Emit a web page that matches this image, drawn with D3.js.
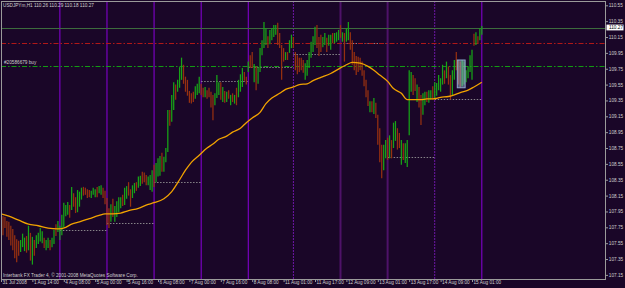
<!DOCTYPE html>
<html><head><meta charset="utf-8">
<script src="https://cdnjs.cloudflare.com/ajax/libs/d3/7.8.5/d3.min.js"></script>
<style>html,body{margin:0;padding:0;background:#1a0628;}svg{display:block}</style>
</head><body><svg id="c" width="625" height="288"></svg>
<script>
// ---- DATA ----
const symbolTitle = "USDJPYm,H1  110.26 110.29 110.18 110.27";
const copyright = "Interbank FX Trader 4, \u00a9 2001-2008 MetaQuotes Software Corp.";
const orderLabel = "#20586679 buy";

const highs = [
107.88,107.89,107.88,107.83,107.82,107.77,107.73,107.65,107.60,107.58,
107.59,107.67,107.62,107.64,107.77,107.68,107.63,107.59,107.65,107.68,
107.74,107.70,107.62,107.59,107.62,107.59,107.62,107.72,107.79,107.83,
107.77,107.91,108.06,108.03,108.07,108.03,108.26,108.18,108.13,108.22,
108.20,108.25,108.26,108.25,108.23,108.22,108.21,108.25,108.23,108.26,
108.27,108.28,108.25,108.21,108.12,107.99,108.04,108.11,108.02,108.08,
108.13,108.13,108.16,108.25,108.27,108.32,108.23,108.28,108.31,108.32,
108.39,108.40,108.45,108.44,108.41,108.39,108.41,108.47,108.54,108.56,
108.62,108.65,108.69,108.64,108.75,109.23,109.23,109.42,109.58,109.55,
109.61,109.77,109.89,109.80,109.65,109.61,109.47,109.44,109.46,109.53,
109.56,109.65,109.56,109.51,109.52,109.48,109.51,109.46,109.42,109.44,
109.67,109.58,109.58,109.52,109.47,109.46,109.48,109.42,109.44,109.42,
109.51,109.61,109.68,109.76,109.71,109.65,109.84,109.92,109.96,109.81,
109.78,109.77,110.01,110.11,110.34,110.26,110.16,110.24,110.26,110.30,
110.30,110.33,110.20,110.05,110.01,109.96,109.96,110.11,110.18,110.15,
109.96,109.92,109.89,109.89,109.86,109.82,109.86,109.96,110.09,110.16,
110.28,110.30,110.15,110.18,110.15,110.20,110.14,110.18,110.18,110.20,
110.20,110.21,110.24,110.30,110.21,110.20,110.26,110.34,110.21,110.11,
109.96,109.91,109.90,109.89,109.84,109.73,109.61,109.48,109.34,109.34,
109.38,109.32,109.17,109.00,108.79,108.79,108.85,108.88,108.91,108.85,
109.07,109.09,109.00,108.94,108.85,108.81,108.81,108.85,109.73,109.71,
109.67,109.63,109.55,109.52,109.42,109.44,109.46,109.46,109.48,109.48,
109.53,109.58,109.57,109.67,109.63,109.80,109.73,109.84,109.78,109.67,
109.73,109.86,109.96,109.86,109.84,109.86,109.84,109.73,109.78,109.92,
109.99,110.19,110.21,110.16,110.26,110.29];

const lows = [
107.69,107.65,107.74,107.63,107.59,107.52,107.46,107.36,107.31,107.39,
107.44,107.50,107.45,107.43,107.46,107.33,107.28,107.39,107.49,107.54,
107.57,107.55,107.49,107.46,107.49,107.46,107.50,107.54,107.64,107.69,
107.59,107.65,107.75,107.89,107.91,107.87,107.97,108.01,107.93,107.94,
108.01,108.10,108.15,108.16,108.12,108.13,108.12,108.16,108.13,108.13,
108.18,108.16,108.12,108.04,107.78,107.74,107.82,107.88,107.82,107.88,
107.94,107.99,108.02,108.03,108.11,108.15,108.01,108.12,108.18,108.21,
108.25,108.27,108.30,108.32,108.28,108.28,108.22,108.20,108.26,108.32,
108.39,108.40,108.45,108.45,108.57,108.70,109.03,109.08,109.23,109.36,
109.46,109.51,109.61,109.56,109.46,109.41,109.32,109.31,109.33,109.37,
109.42,109.44,109.42,109.39,109.39,109.37,109.39,109.26,109.10,109.29,
109.38,109.42,109.36,109.33,109.32,109.33,109.37,109.29,109.33,109.31,
109.29,109.39,109.46,109.52,109.60,109.55,109.71,109.76,109.76,109.58,
109.48,109.56,109.71,109.92,110.01,110.05,110.01,110.06,110.11,110.15,
110.18,110.05,110.01,109.61,109.84,109.86,109.86,109.95,110.01,110.01,
109.73,109.68,109.71,109.73,109.70,109.61,109.66,109.76,109.89,109.96,
110.05,110.01,109.91,109.96,110.02,110.05,109.96,110.04,109.99,110.07,
110.07,110.09,110.11,110.14,110.09,109.84,110.09,110.11,109.99,109.80,
109.73,109.67,109.71,109.73,109.66,109.53,109.39,109.28,109.20,109.20,
109.18,109.13,108.79,108.57,108.37,108.47,108.62,108.60,108.62,108.62,
108.75,108.84,108.73,108.75,108.54,108.60,108.56,108.51,108.91,109.46,
109.42,109.47,109.33,109.26,109.04,109.17,109.29,109.33,109.32,109.36,
109.36,109.38,109.41,109.48,109.46,109.55,109.56,109.63,109.55,109.36,
109.42,109.61,109.73,109.55,109.51,109.53,109.55,109.58,109.63,109.71,
109.61,110.04,110.05,110.07,110.11,110.18];

// u = up bar, d = down bar
const dirs = ("dddddddddd"+"uuudududuu"+"uuduuduudu"+"uuuuududdu"+"uudddduuud"+
  "uudddduduu"+"uuduudduud"+"uuddduuudu"+"uuduuuduud"+"uuuddddddu"+
  "uudduddddu"+"uududududu"+"duuudduddu"+"duuuuuduuu"+"udddduduud"+
  "ddddduuuuu"+"uddduuduud"+"uuududuudd"+"ddddddddud"+"udddduudud"+
  "uudduduuuu"+"ddudduuduu"+"duuuuududd"+"uuddduuuuu"+"ududuu").split("");

const maIdx = [0,4,9,14,19,24,29,33,36,40,45,50,53,57,61,65,70,75,78,83,87,91,94,97,101,105,108,111,115,118,122,125,128,132,135,138,142,145,149,152,156,159,163,168,173,176,179,183,187,190,193,197,200,204,207,210,214,217,220,224,228,231,234,238,241,245];
const maVal = [107.92,107.89,107.84,107.79,107.77,107.74,107.73,107.75,107.79,107.82,107.86,107.90,107.92,107.92,107.93,107.96,107.99,108.04,108.06,108.11,108.20,108.35,108.47,108.57,108.66,108.75,108.80,108.86,108.90,108.95,109.00,109.07,109.13,109.20,109.31,109.38,109.44,109.49,109.52,109.55,109.56,109.60,109.64,109.69,109.76,109.80,109.83,109.82,109.78,109.73,109.67,109.59,109.50,109.44,109.36,109.36,109.36,109.37,109.37,109.39,109.40,109.42,109.45,109.48,109.52,109.58];

const priceTicks = [110.55,110.35,110.15,109.95,109.75,109.55,109.35,109.15,108.95,108.75,108.55,108.35,108.15,107.95,107.75,107.55,107.35,107.15];
const timeIdx = [0,16,32,48,64,80,96,112,128,144,160,176,192,208,224,240];
const timeLabels = ["31 Jul 2008","1 Aug 14:00","4 Aug 08:00","5 Aug 00:00","5 Aug 16:00","6 Aug 08:00","7 Aug 00:00","7 Aug 16:00","8 Aug 08:00","11 Aug 01:00","11 Aug 17:00","12 Aug 09:00","13 Aug 01:00","13 Aug 17:00","14 Aug 09:00","15 Aug 01:00"];

const sepIdx = [30,54,78,102,126,149,173,197,221,245];
const sepKind = ["b","b","b","b","b","dash","wide","wide","dash","b"];

const levelStart = [30,54,78,102,126,149,173,197,221];
const levelEnd   = [54,78,102,126,149,173,197,221,245];
const levelPrice = [107.72,107.81,108.32,109.60,109.77,109.94,110.07,108.64,109.37];

const bidPrice = 110.27;
const stopPrice = 110.07;
const openPrice = 109.79;
const box = {i0:232.5, i1:236.5, hi:109.86, lo:109.51};

// ---- DRAW ----
const W=625,H=288;
const P={l:1,r:606,t:1,b:280};
const C={bg:"#1a0628",frame:"#9a9a9a",txt:"#cfcfcf",up:"#17a417",dn:"#963010",ma:"#f2a300"};
const FONT='"Liberation Sans", Arial, sans-serif';
const svg=d3.select("#c");
svg.append("rect").attr("width",W).attr("height",H).attr("fill",C.bg);

const x=d3.scaleLinear().domain([0,245]).range([1,1+245*1.9625]);
const y=d3.scaleLinear().domain([107.15,110.55]).range([274.9,5.3]);

svg.append("defs").append("clipPath").attr("id","cp").append("rect")
  .attr("x",P.l).attr("y",P.t).attr("width",P.r-P.l).attr("height",P.b-P.t);
const g=svg.append("g").attr("clip-path","url(#cp)");

// separators
g.selectAll("line.sep").data(sepIdx).join("line")
  .attr("x1",d=>x(d)).attr("x2",d=>x(d)).attr("y1",P.t).attr("y2",P.b)
  .attr("stroke",(d,i)=>sepKind[i]==="b"?"#8a00dc":sepKind[i]==="wide"?"#4e1268":"#6e18a8")
  .attr("stroke-width",(d,i)=>sepKind[i]==="wide"?2:1)
  .attr("stroke-dasharray",(d,i)=>sepKind[i]==="dash"?"2,1":null);

// daily level segments
g.selectAll("line.lvl").data(levelPrice).join("line")
  .attr("x1",(d,i)=>x(levelStart[i])).attr("x2",(d,i)=>x(levelEnd[i]))
  .attr("y1",d=>Math.round(y(d))+0.5).attr("y2",d=>Math.round(y(d))+0.5)
  .attr("stroke","#9a9a9a").attr("stroke-width",1).attr("stroke-dasharray","1.5,1.5").attr("opacity",0.85);

// horizontal order lines
function hline(p,col,dash){
  g.append("line").attr("x1",P.l).attr("x2",P.r)
   .attr("y1",Math.round(y(p))+0.5).attr("y2",Math.round(y(p))+0.5)
   .attr("stroke",col).attr("stroke-width",1).attr("stroke-dasharray",dash);
}
hline(bidPrice,"#3d6b3d",null);
hline(stopPrice,"#b01818","5,2,1.5,2");
hline(openPrice,"#139a13","5,2,1.5,2");

// bars
g.selectAll("line.bar").data(highs).join("line")
  .attr("x1",(d,i)=>x(i)).attr("x2",(d,i)=>x(i))
  .attr("y1",(d,i)=>y(highs[i])).attr("y2",(d,i)=>y(lows[i]))
  .attr("stroke",(d,i)=>dirs[i]==="u"?C.up:C.dn).attr("stroke-width",1.25);

// rectangle object
g.append("rect").attr("x",x(box.i0)).attr("y",y(box.hi))
  .attr("width",x(box.i1)-x(box.i0)).attr("height",y(box.lo)-y(box.hi))
  .attr("fill","#9fc0e8").attr("fill-opacity",0.45).attr("stroke","#8fa7cc").attr("stroke-width",1);

// moving average
const line=d3.line().x((d,i)=>x(maIdx[i])).y(d=>y(d)).curve(d3.curveMonotoneX);
g.append("path").datum(maVal).attr("d",line).attr("fill","none").attr("stroke",C.ma).attr("stroke-width",1.3);

// texts
const t=(txt,xx,yy)=>svg.append("text").attr("x",xx).attr("y",yy).text(txt)
  .attr("font-family",FONT).attr("font-size",4.7).attr("fill",C.txt);
t(symbolTitle,3,7.2);
t(orderLabel,4,63.5);
t(copyright,3,277);

// frame
svg.append("rect").attr("x",P.l+0.5).attr("y",P.t+0.5).attr("width",P.r-P.l-1).attr("height",P.b-P.t-1)
  .attr("fill","none").attr("stroke",C.frame).attr("stroke-width",1);

// right axis
const ay=svg.append("g").attr("transform",`translate(${P.r-0.5},0)`)
  .call(d3.axisRight(y).tickValues(priceTicks).tickSize(2.5).tickPadding(0.8).tickFormat(d3.format(".2f")));
ay.select(".domain").remove();
ay.selectAll("line").attr("stroke",C.frame);
ay.selectAll("text").attr("font-family",FONT).attr("font-size",4.7).attr("fill",C.txt);

// current price label
const cp=svg.append("g").attr("transform",`translate(${P.r},${y(bidPrice)})`);
cp.append("rect").attr("x",0.5).attr("y",-2.9).attr("width",17).attr("height",5.8).attr("fill","#ffffff");
cp.append("text").attr("x",3).attr("y",0).attr("dy","0.34em").text(d3.format(".2f")(bidPrice))
  .attr("font-family",FONT).attr("font-size",4.7).attr("fill","#000");

// bottom axis
const ax=svg.append("g").attr("transform",`translate(0,${P.b-0.5})`)
  .call(d3.axisBottom(x).tickValues(timeIdx).tickSize(2.5).tickPadding(-1.2).tickFormat((d,i)=>timeLabels[i]));
ax.select(".domain").remove();
ax.selectAll("line").attr("stroke",C.frame);
ax.selectAll("text").attr("text-anchor","start").attr("dx",1)
  .attr("font-family",FONT).attr("font-size",4.7).attr("fill",C.txt);
</script></body></html>
